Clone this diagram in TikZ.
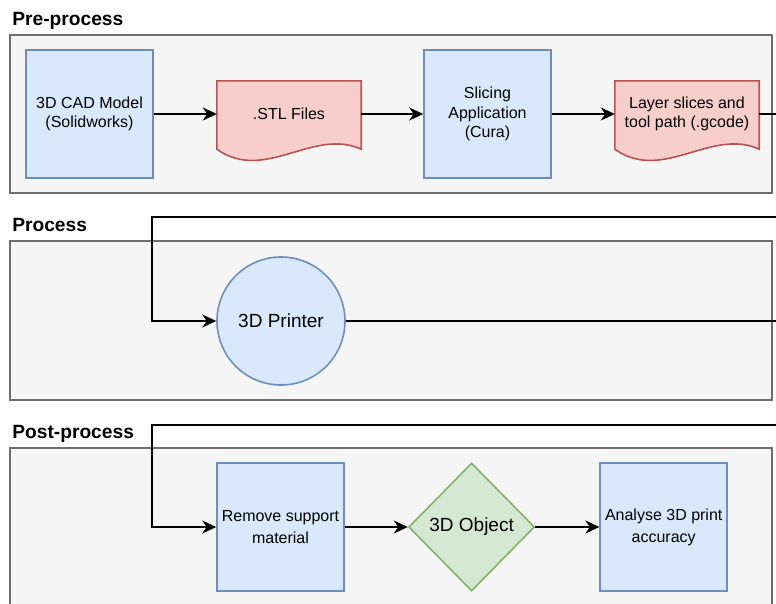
\documentclass[tikz,border=0pt]{standalone}
\usepackage{fontspec}
\setmainfont{Liberation Sans}
\usepackage{tikz}
\usetikzlibrary{shapes, calc, arrows.meta, positioning, backgrounds}

\definecolor{lanefill}{HTML}{F5F5F5}
\definecolor{laneline}{HTML}{6E6E6E}
\definecolor{procfill}{HTML}{DAE8FC}
\definecolor{procline}{HTML}{6C8EBF}
\definecolor{docfill}{HTML}{F8CECC}
\definecolor{docline}{HTML}{B85450}
\definecolor{decfill}{HTML}{D5E8D4}
\definecolor{decline}{HTML}{82B366}

\begin{document}
\begin{tikzpicture}[x=1pt, y=-1pt, >={Stealth[length=14pt, width=13pt, inset=4.5pt]},
  font={\fontsize{16}{19.5}\selectfont}, align=center,
  lane/.style={draw=laneline, fill=lanefill, line width=1.8pt, minimum width=762pt, inner sep=0pt},
  lanetitle/.style={font={\fontsize{19.2}{22}\selectfont\bfseries}, inner sep=0pt},
  proc/.style={draw=procline, fill=procfill, line width=1.6pt, minimum width=127pt, minimum height=128pt, inner sep=2pt},
  doc/.style={minimum width=144pt, minimum height=70pt, inner sep=2pt},
  docshape/.style={draw=docline, fill=docfill, line width=1.6pt},
  conn/.style={line width=2pt}]
  \useasboundingbox (0,0) rectangle (776,603);

  % lanes
  \begin{scope}[on background layer]
    \node[lane, minimum height=158pt] (pre) at (391,114) {};
    \node[lane, minimum height=159pt] (proc) at (391,320.5) {};
    \node[lane, minimum height=172pt] (post) at (391,534) {};
  \end{scope}
  \node[lanetitle, anchor=base west] (pretitle) at ($(pre.north west)+(3,-9)$) {Pre-process};
  \node[lanetitle, anchor=base west] (proctitle) at ($(proc.north west)+(3,-9)$) {Process};
  \node[lanetitle, anchor=base west] (posttitle) at ($(post.north west)+(3,-9)$) {Post-process};

  % pre-process
  \node[proc] (cad) at (89.5,114) {3D CAD Model\\(Solidworks)};
  \node[doc, right=63pt of cad] (stl) {.STL Files};
  \node[proc, right=62pt of stl] (slicer) {Slicing\\Application\\(Cura)};
  \node[doc, right=63pt of slicer] (gcode) {Layer slices and\\tool path (.gcode)};

  \begin{scope}[on background layer]
    \foreach \d in {stl, gcode}
      \draw[docshape] ($(\d.north west)+(0,2)$) -- ($(\d.north east)+(0,2)$) -- (\d.south east)
        .. controls ($(\d.south east)+(-48,-22)$) and ($(\d.south west)+(48,34)$) .. (\d.south west) -- cycle;
  \end{scope}

  % process
  \node[draw=procline, fill=procfill, line width=1.6pt, circle, minimum size=128pt,
    font={\fontsize{19}{22}\selectfont}] (printer) at (281,321) {3D Printer};

  % post-process
  \node[proc, font={\fontsize{16}{22}\selectfont}] (support) at (280.5,527) {Remove support\\material};
  \node[draw=decline, fill=decfill, line width=1.6pt, diamond, minimum width=126pt, minimum height=128pt,
    inner sep=1pt, font={\fontsize{19}{22}\selectfont}, right=63pt of support] (object) {3D Object};
  \node[proc, font={\fontsize{16}{22}\selectfont}, right=64pt of object] (analyse) {Analyse 3D print\\accuracy};

  % wrap-around points
  \coordinate (outA) at (790,114);
  \coordinate (inA) at (790,217);
  \coordinate (turnA) at (152,217);
  \coordinate (outB) at (790,321);
  \coordinate (inB) at (790,425);
  \coordinate (turnB) at (152,425);

  \draw[conn, ->] (cad) -- (stl);
  \draw[conn, ->] (stl) -- (slicer);
  \draw[conn, ->] (slicer) -- (gcode);
  \draw[conn] (gcode) -- (outA);
  \draw[conn, ->] (inA) -- (turnA) |- (printer);
  \draw[conn] (printer) -- (outB);
  \draw[conn, ->] (inB) -- (turnB) |- (support);
  \draw[conn, ->] (support) -- (object);
  \draw[conn, ->] (object) -- (analyse);
\end{tikzpicture}
\end{document}
